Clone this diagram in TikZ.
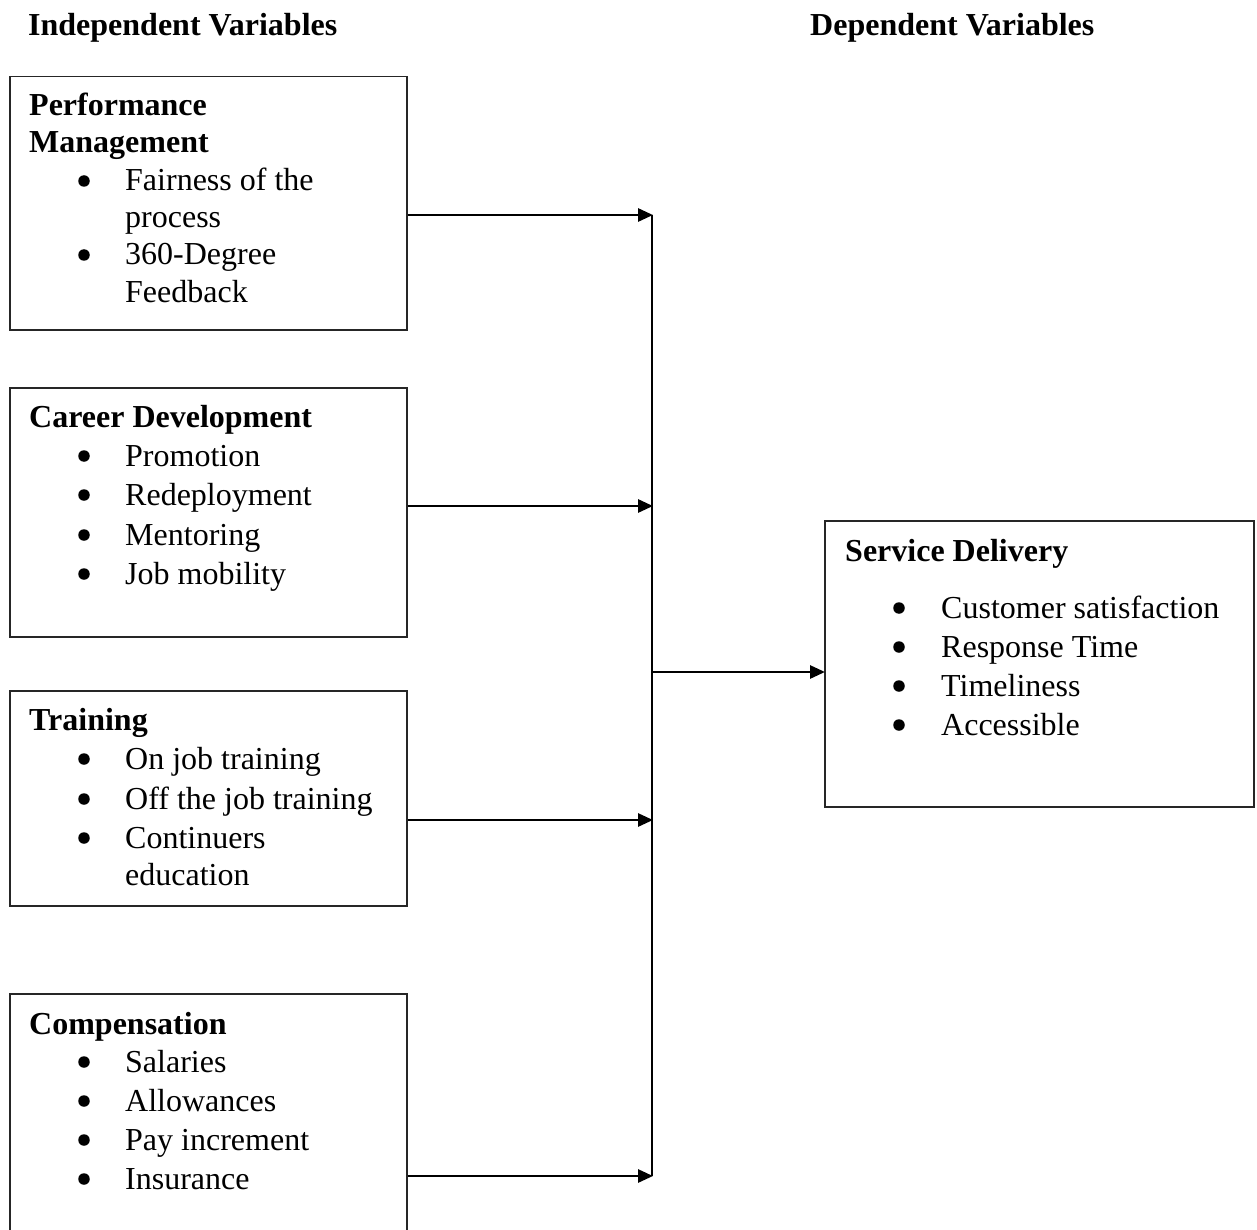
\documentclass[tikz,border=0pt]{standalone}
\usepackage{fontspec}
\setmainfont{Liberation Serif}
\usetikzlibrary{arrows.meta}
\begin{document}
\begin{tikzpicture}[x=1pt,y=-1pt,
  box/.style={draw=black!85, line width=1.5pt, anchor=north west, inner sep=0pt},
  arr/.style={line width=2.8pt, -{Triangle[length=15pt,width=13pt]}, shorten >=-1pt},
  conn/.style={line width=2.8pt},
  txt/.style={anchor=base west, inner sep=0pt, font=\fontsize{32}{38}\selectfont},
  hd/.style={txt, font=\fontsize{32}{38}\selectfont\bfseries},
  bul/.style={circle, fill=black, inner sep=0pt, minimum size=11.5pt, yshift=10pt}
]
\clip (0,0) rectangle (1257,1230);
\fill[white] (0,0) rectangle (1257,1230);

% titles
\node[hd] (tind) at (28,36) {Independent Variables};
\node[hd] (tdep) at (810,36) {Dependent Variables};

% boxes
\node[box, minimum width=397pt, minimum height=253pt] (pm) at (9,76) {};
\node[box, minimum width=397pt, minimum height=249pt] (cd) at (9,387) {};
\node[box, minimum width=397pt, minimum height=215pt] (tr) at (9,690) {};
\node[box, minimum width=397pt, minimum height=260pt] (co) at (9,993) {};
\node[box, minimum width=429pt, minimum height=286pt] (sd) at (824,520) {};

% box 1
\node[hd] (pm1) at (29,116) {Performance};
\node[hd] (pm2) at (29,153) {Management};
\node[bul] (pmb1) at (84,191) {};
\node[txt] (pmi1) at (125,191) {Fairness of the};
\node[txt] (pmi1b) at (125,228) {process};
\node[bul] (pmb2) at (84,265) {};
\node[txt] (pmi2) at (125,265) {360-Degree};
\node[txt] (pmi2b) at (125,302) {Feedback};

% box 2
\node[hd] (cd1) at (29,427) {Career Development};
\node[bul] (cdb1) at (84,466) {};
\node[txt] (cdi1) at (125,466) {Promotion};
\node[bul] (cdb2) at (84,505) {};
\node[txt] (cdi2) at (125,505) {Redeployment};
\node[bul] (cdb3) at (84,545) {};
\node[txt] (cdi3) at (125,545) {Mentoring};
\node[bul] (cdb4) at (84,584) {};
\node[txt] (cdi4) at (125,584) {Job mobility};

% box 3
\node[hd] (tr1) at (29,730) {Training};
\node[bul] (trb1) at (84,769) {};
\node[txt] (tri1) at (125,769) {On job training};
\node[bul] (trb2) at (84,809) {};
\node[txt] (tri2) at (125,809) {Off the job training};
\node[bul] (trb3) at (84,848) {};
\node[txt] (tri3) at (125,848) {Continuers};
\node[txt] (tri3b) at (125,885) {education};

% box 4
\node[hd] (co1) at (29,1034) {Compensation};
\node[bul] (cob1) at (84,1072) {};
\node[txt] (coi1) at (125,1072) {Salaries};
\node[bul] (cob2) at (84,1111) {};
\node[txt] (coi2) at (125,1111) {Allowances};
\node[bul] (cob3) at (84,1150) {};
\node[txt] (coi3) at (125,1150) {Pay increment};
\node[bul] (cob4) at (84,1189) {};
\node[txt] (coi4) at (125,1189) {Insurance};

% service delivery
\node[hd] (sd1) at (845,561) {Service Delivery};
\node[bul] (sdb1) at (899,618) {};
\node[txt] (sdi1) at (941,618) {Customer satisfaction};
\node[bul] (sdb2) at (899,657) {};
\node[txt] (sdi2) at (941,657) {Response Time};
\node[bul] (sdb3) at (899,696) {};
\node[txt] (sdi3) at (941,696) {Timeliness};
\node[bul] (sdb4) at (899,735) {};
\node[txt] (sdi4) at (941,735) {Accessible};

% junction coordinates
\coordinate (j1) at (652,215);
\coordinate (j2) at (652,506);
\coordinate (j3) at (652,820);
\coordinate (j4) at (652,1176);
\coordinate (jm) at (652,672);

% connectors
\draw[conn] (j1) -- (j4);
\draw[arr] (pm.east |- j1) -- (j1);
\draw[arr] (cd.east |- j2) -- (j2);
\draw[arr] (tr.east |- j3) -- (j3);
\draw[arr] (co.east |- j4) -- (j4);
\draw[arr] (jm) -- (sd.west |- jm);
\end{tikzpicture}
\end{document}
